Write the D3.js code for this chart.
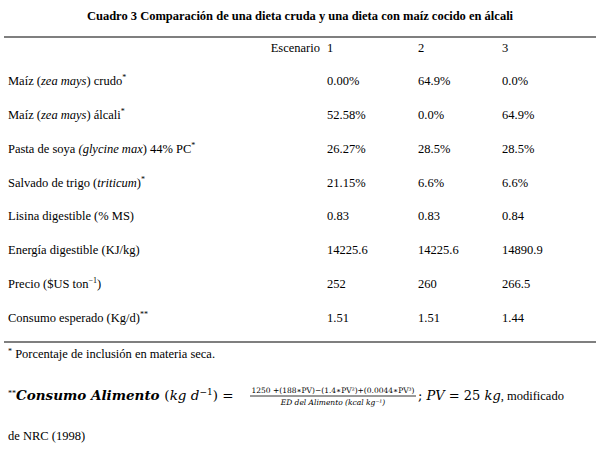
<!DOCTYPE html><html><head><meta charset="utf-8"><script src="https://cdn.jsdelivr.net/npm/d3@7"></script>
<style>body{margin:0;background:#fff}svg text{font-family:"Liberation Serif","Times New Roman","DejaVu Serif",serif;font-size:12.5px;fill:#000}</style></head><body><svg id="c" width="600" height="449"></svg>
<script>
const title="Cuadro 3 Comparación de una dieta cruda y una dieta con maíz cocido en álcali";
const scenarios=["1","2","3"];
const rowLabels=[
 [["Maíz (",""],["zea mays","i"],[") crudo",""],["*","s"]],
 [["Maíz  (",""],["zea mays","i"],[") álcali",""],["*","s"]],
 [["Pasta de soya ",""],["(glycine max","i"],[") 44% PC",""],["*","s"]],
 [["Salvado de trigo (",""],["triticum","i"],[")",""],["*","s"]],
 [["Lisina digestible (% MS)",""]],
 [["Energía digestible (KJ/kg)",""]],
 [["Precio ($US ton",""],["−1","s"],[")",""]],
 [["Consumo esperado (Kg/d)",""],["**","s"]]];
const s1=["0.00%","52.58%","26.27%","21.15%","0.83","14225.6","252","1.51"];
const s2=["64.9%","0.0%","28.5%","6.6%","0.83","14225.6","260","1.51"];
const s3=["0.0%","64.9%","28.5%","6.6%","0.84","14890.9","266.5","1.44"];
const svg=d3.select("#c");
svg.append("text").attr("x",300).attr("y",20).attr("text-anchor","middle").style("font-weight","bold").text(title);
svg.append("line").attr("x1",4).attr("x2",596).attr("y1",37).attr("y2",37).attr("stroke","#000").attr("stroke-width",1.2);
svg.append("line").attr("x1",4).attr("x2",596).attr("y1",342).attr("y2",342).attr("stroke","#000").attr("stroke-width",1.2);
const xs={label:8,"1":327,"2":418,"3":502};
const y=d3.scaleLinear().domain([0,7]).range([85,322]);
svg.append("text").attr("x",320).attr("y",52).attr("text-anchor","end").text("Escenario");
scenarios.forEach(s=>svg.append("text").attr("x",xs[s]).attr("y",52).text(s));
rowLabels.forEach((parts,i)=>{
 const t=svg.append("text").attr("x",xs.label).attr("y",y(i));
 parts.forEach(([s,k])=>{const ts=t.append("tspan").text(s);
  if(k==="i")ts.style("font-style","italic");
  if(k==="s")ts.attr("dy",-5).style("font-size","8px");
  else if(i===6&&s===")")ts.attr("dy",5);
 });
});
[[s1,"1"],[s2,"2"],[s3,"3"]].forEach(([arr,k])=>arr.forEach((v,i)=>svg.append("text").attr("x",xs[k]).attr("y",y(i)).text(v)));
const f1=svg.append("text").attr("x",8).attr("y",358);
f1.append("tspan").text("*").attr("dy",-4).style("font-size","8px");
f1.append("tspan").attr("dy",4).text(" Porcentaje de inclusión  en materia seca.");
const M="'DejaVu Serif',serif";
const f2=svg.append("text").attr("x",8).attr("y",400);
f2.append("tspan").text("**").attr("dy",-4).style("font-size","8px");
f2.append("tspan").attr("dy",4).style("font-family",M).style("font-size","13.5px").style("font-style","italic").style("font-weight","bold").text("Consumo Alimento ");
f2.append("tspan").style("font-family",M).style("font-size","13.5px").html("(<tspan font-style='italic'>kg d</tspan>");
f2.append("tspan").attr("dy",-5).style("font-family",M).style("font-size","9px").text("−1");
f2.append("tspan").attr("dy",5).style("font-family",M).style("font-size","13.5px").text(") =");
svg.append("text").attr("x",333).attr("y",393).attr("text-anchor","middle").style("font-size","7.5px").style("font-family",M).text("1250 +(188∗PV)−(1.4∗PV²)+(0.0044∗PV³)");
svg.append("line").attr("x1",250).attr("x2",416).attr("y1",396).attr("y2",396).attr("stroke","#000").attr("stroke-width",0.8);
svg.append("text").attr("x",333).attr("y",405).attr("text-anchor","middle").style("font-size","7.5px").style("font-family",M).style("font-style","italic").text("ED del Alimento (kcal kg⁻¹)");
const f3=svg.append("text").attr("x",418).attr("y",400);
f3.append("tspan").style("font-family",M).style("font-size","13px").html("; <tspan font-style='italic'>PV</tspan> = 25 <tspan font-style='italic'>kg</tspan>");
f3.append("tspan").text(", modificado");
svg.append("text").attr("x",8).attr("y",440).text("de NRC (1998)");
</script></body></html>
